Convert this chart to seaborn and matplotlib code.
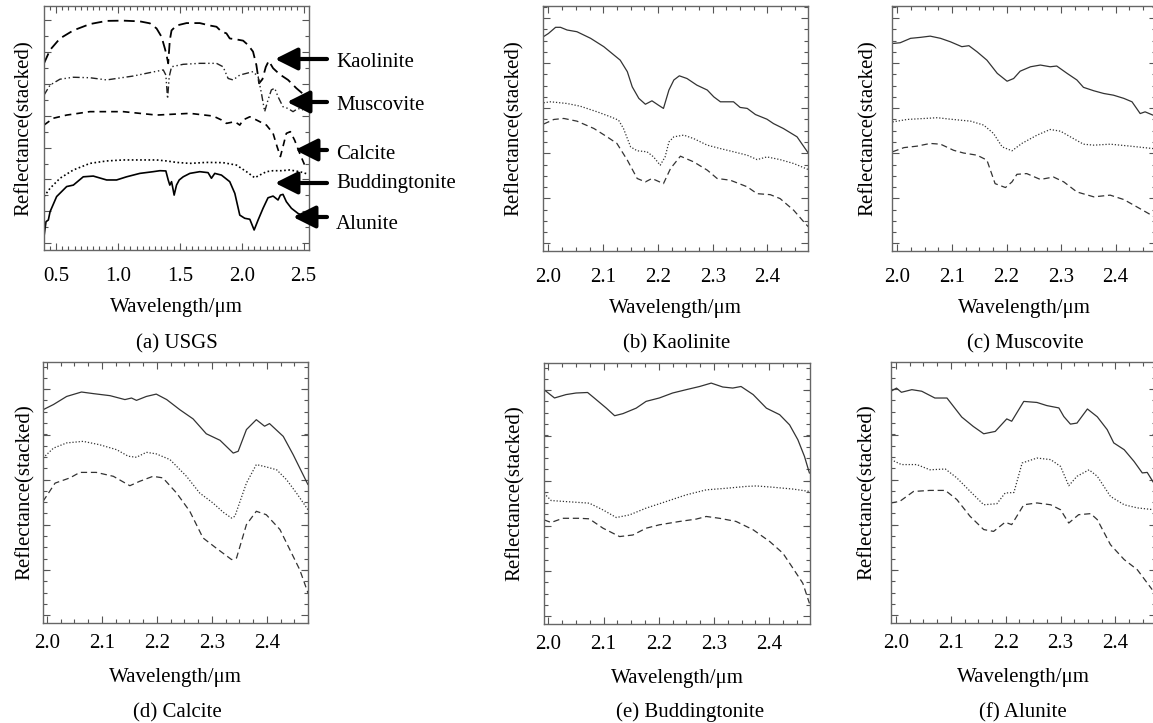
"""
Six-panel mineral spectra figure (USGS library + extracted spectra).
Output: out.png
"""
import pandas as pd
import matplotlib
matplotlib.use("Agg")
import matplotlib.pyplot as plt
from matplotlib.ticker import MultipleLocator
import seaborn as sns

W, H = 1153, 723

# --- (a) USGS library spectra (reflectance, stacked, axis fraction) ---
kao_x = [.403, .452, .532, .640, .774, .909, 1.043, 1.177, 1.258, 1.312, 1.352, 1.379, 1.392, 1.406, 1.419,
         1.433, 1.473, 1.554, 1.661, 1.742, 1.796, 1.836, 1.876, 1.903, 1.957, 2.011, 2.051, 2.091, 2.118,
         2.140, 2.167, 2.194, 2.218, 2.253, 2.306, 2.374, 2.441, 2.522]
kao_y = [.765, .82, .867, .90, .926, .939, .94, .937, .929, .908, .874, .826, .80, .765, .86,
         .90, .92, .93, .93, .92, .915, .895, .888, .867, .863, .858, .84, .813, .758,
         .683, .70, .75, .775, .745, .72, .697, .663, .628]
mus_x = [.403, .452, .532, .640, .774, .909, .989, 1.124, 1.258, 1.366, 1.387, 1.401, 1.414, 1.433, 1.527,
         1.661, 1.796, 1.849, 1.890, 1.930, 1.984, 2.038, 2.091, 2.132, 2.159, 2.185, 2.212, 2.239, 2.266,
         2.293, 2.333, 2.374, 2.414, 2.454, 2.495]
mus_y = [.635, .676, .70, .708, .706, .697, .703, .713, .727, .738, .717, .62, .71, .751, .761,
         .765, .765, .751, .703, .697, .717, .724, .731, .71, .642, .567, .615, .656, .663,
         .628, .587, .58, .567, .58, .574]
cal_x = [.403, .478, .586, .774, 1.043, 1.312, 1.581, 1.769, 1.836, 1.876, 1.944, 1.984, 2.011, 2.065,
         2.118, 2.199, 2.253, 2.285, 2.312, 2.333, 2.360, 2.392, 2.427, 2.468, 2.508]
cal_y = [.512, .54, .553, .567, .567, .553, .56, .549, .533, .519, .526, .512, .533, .546,
         .533, .512, .478, .424, .383, .424, .478, .485, .45, .396, .348]
bud_x = [.403, .452, .532, .640, .774, .909, 1.043, 1.177, 1.312, 1.392, 1.473, 1.581, 1.715, 1.849,
         1.957, 2.038, 2.105, 2.145, 2.199, 2.253, 2.32, 2.387, 2.468, 2.535]
bud_y = [.219, .253, .294, .328, .355, .365, .369, .369, .369, .365, .359, .355, .359, .358,
         .348, .321, .296, .307, .321, .325, .325, .328, .321, .311]
alu_x = [.403, .419, .438, .452, .505, .586, .640, .72, .801, .909, .989, 1.07, 1.177, 1.285, 1.339,
         1.387, 1.406, 1.419, 1.433, 1.441, 1.454, 1.473, 1.495, 1.527, 1.581, 1.661, 1.728, 1.755,
         1.782, 1.836, 1.903, 1.944, 1.984, 2.024, 2.065, 2.10, 2.132, 2.172, 2.212, 2.253, 2.293,
         2.312, 2.333, 2.36, 2.401, 2.454, 2.508, 2.535]
alu_y = [.055, .116, .123, .157, .219, .26, .266, .30, .303, .287, .287, .30, .314, .321, .325,
         .324, .287, .266, .28, .26, .225, .266, .287, .30, .314, .321, .317, .294,
         .314, .307, .28, .232, .143, .13, .126, .082, .123, .171, .214, .221, .205,
         .225, .228, .198, .171, .15, .137, .13]

# --- (b) Kaolinite ---
b_sol_x = [1.991, 2.0, 2.013, 2.022, 2.034, 2.052, 2.077, 2.101, 2.131, 2.144, 2.153, 2.165, 2.177, 2.189,
           2.201, 2.21, 2.22, 2.229, 2.239, 2.253, 2.271, 2.29, 2.302, 2.314, 2.338, 2.35, 2.363, 2.378,
           2.399, 2.411, 2.429, 2.454, 2.475]
b_sol_y = [.875, .888, .913, .913, .902, .895, .868, .834, .779, .732, .67, .623, .599, .613,
           .595, .582, .657, .698, .715, .704, .677, .657, .629, .609, .609, .586, .582, .557,
           .538, .52, .50, .466, .398]
b_dot_x = [1.991, 2.004, 2.034, 2.058, 2.089, 2.113, 2.128, 2.137, 2.15, 2.162, 2.18, 2.192, 2.204, 2.213,
           2.22, 2.229, 2.247, 2.265, 2.29, 2.314, 2.338, 2.363, 2.381, 2.399, 2.423, 2.448, 2.475]
b_dot_y = [.605, .609, .602, .591, .568, .548, .534, .50, .425, .409, .405, .384, .35, .384,
           .445, .466, .473, .459, .432, .418, .405, .391, .373, .384, .373, .357, .332]
b_dash_x = [1.991, 2.01, 2.028, 2.052, 2.083, 2.107, 2.125, 2.144, 2.162, 2.177, 2.189, 2.21, 2.223,
            2.241, 2.265, 2.29, 2.308, 2.332, 2.363, 2.381, 2.405, 2.423, 2.448, 2.469, 2.475]
b_dash_y = [.518, .537, .541, .53, .50, .466, .439, .371, .296, .282, .296, .275, .337,
            .387, .364, .33, .296, .289, .262, .234, .23, .214, .166, .112, .098]

# --- (c) Muscovite ---
c_sol_x = [1.991, 2.005, 2.024, 2.042, 2.06, 2.079, 2.097, 2.118, 2.131, 2.146, 2.164, 2.183, 2.201, 2.213,
           2.225, 2.244, 2.262, 2.28, 2.292, 2.311, 2.329, 2.341, 2.36, 2.378, 2.396, 2.415, 2.43, 2.445,
           2.454, 2.469]
c_sol_y = [.847, .85, .868, .872, .877, .868, .854, .834, .838, .813, .779, .725, .693, .704,
           .734, .752, .759, .752, .755, .725, .698, .668, .654, .643, .636, .623, .609, .561,
           .568, .554]
c_dot_x = [1.991, 2.018, 2.042, 2.073, 2.097, 2.134, 2.158, 2.176, 2.192, 2.21, 2.228, 2.256, 2.28, 2.299,
           2.317, 2.341, 2.36, 2.39, 2.427, 2.469]
c_dot_y = [.527, .537, .54, .544, .538, .53, .514, .48, .425, .409, .439, .473, .496, .489,
           .466, .436, .432, .436, .428, .418]
c_dash_x = [1.991, 2.012, 2.036, 2.06, 2.079, 2.103, 2.121, 2.146, 2.164, 2.179, 2.198, 2.21, 2.219,
            2.237, 2.262, 2.286, 2.305, 2.329, 2.36, 2.39, 2.415, 2.439, 2.469]
c_dash_y = [.405, .422, .428, .439, .436, .411, .40, .391, .371, .275, .259, .282, .313,
            .316, .292, .302, .282, .241, .221, .228, .21, .18, .142]

# --- (d) Calcite ---
d_sol_x = [1.993, 2.012, 2.036, 2.063, 2.084, 2.115, 2.142, 2.154, 2.163, 2.181, 2.199, 2.218, 2.242,
           2.266, 2.29, 2.315, 2.339, 2.348, 2.363, 2.381, 2.396, 2.405, 2.43, 2.448, 2.475]
d_sol_y = [.817, .837, .868, .885, .879, .871, .856, .862, .853, .868, .877, .856, .817,
           .782, .725, .70, .651, .658, .741, .779, .754, .764, .715, .645, .53]
d_dot_x = [1.993, 2.012, 2.036, 2.066, 2.096, 2.127, 2.148, 2.163, 2.181, 2.199, 2.224, 2.254, 2.278,
           2.302, 2.321, 2.336, 2.342, 2.363, 2.381, 2.399, 2.418, 2.436, 2.454, 2.475]
d_dot_y = [.632, .67, .69, .696, .683, .664, .639, .635, .654, .648, .626, .562, .498,
           .46, .424, .402, .409, .536, .607, .598, .587, .549, .498, .434]
d_dash_x = [1.993, 2.015, 2.042, 2.06, 2.09, 2.121, 2.151, 2.169, 2.193, 2.211, 2.236, 2.26, 2.284,
            2.308, 2.336, 2.345, 2.363, 2.381, 2.399, 2.424, 2.442, 2.46, 2.475]
d_dash_y = [.466, .536, .556, .577, .577, .562, .526, .543, .562, .556, .498, .428, .326,
            .287, .243, .249, .377, .428, .415, .358, .281, .204, .115]

# --- (e) Buddingtonite ---
e_sol_x = [1.992, 2.011, 2.032, 2.05, 2.071, 2.083, 2.105, 2.12, 2.135, 2.159, 2.177, 2.201, 2.225,
           2.25, 2.274, 2.295, 2.316, 2.334, 2.349, 2.371, 2.395, 2.419, 2.437, 2.452, 2.464, 2.473]
e_sol_y = [.898, .866, .879, .885, .887, .866, .827, .798, .806, .827, .853, .866, .885,
           .898, .91, .923, .908, .904, .91, .879, .827, .802, .763, .706, .642, .578]
e_dot_x = [1.992, 2.005, 2.032, 2.074, 2.099, 2.123, 2.147, 2.177, 2.213, 2.25, 2.286, 2.322, 2.358,
           2.377, 2.407, 2.443, 2.473]
e_dot_y = [.501, .473, .469, .463, .437, .408, .418, .444, .469, .495, .514, .52, .527,
           .529, .524, .517, .508]
e_dash_x = [1.992, 2.005, 2.026, 2.056, 2.074, 2.099, 2.129, 2.153, 2.177, 2.201, 2.238, 2.268, 2.286,
            2.31, 2.34, 2.371, 2.401, 2.425, 2.443, 2.461, 2.473]
e_dash_y = [.399, .389, .405, .405, .403, .367, .335, .341, .367, .38, .393, .402, .412,
            .405, .393, .361, .316, .271, .214, .156, .079]

# --- (f) Alunite ---
f_sol_x = [1.991, 2.001, 2.01, 2.029, 2.047, 2.071, 2.093, 2.12, 2.141, 2.16, 2.181, 2.202, 2.211, 2.233,
           2.257, 2.275, 2.297, 2.306, 2.318, 2.33, 2.349, 2.367, 2.385, 2.397, 2.416, 2.434, 2.449,
           2.458, 2.47]
f_sol_y = [.888, .90, .884, .894, .888, .862, .862, .789, .753, .725, .734, .782, .773, .849,
           .845, .833, .824, .791, .762, .766, .82, .79, .741, .69, .664, .619, .575,
           .577, .536]
f_dot_x = [1.991, 2.01, 2.038, 2.062, 2.09, 2.111, 2.135, 2.16, 2.184, 2.199, 2.215, 2.23, 2.257, 2.282,
           2.3, 2.315, 2.33, 2.352, 2.367, 2.391, 2.416, 2.44, 2.47]
f_dot_y = [.626, .607, .607, .587, .59, .556, .505, .453, .457, .498, .50, .613, .632, .626,
           .60, .526, .562, .587, .562, .485, .453, .441, .434]
f_dash_x = [1.991, 2.007, 2.032, 2.062, 2.09, 2.111, 2.135, 2.16, 2.178, 2.199, 2.211, 2.233, 2.257,
            2.282, 2.3, 2.315, 2.333, 2.355, 2.367, 2.391, 2.416, 2.44, 2.467]
f_dash_y = [.46, .466, .504, .508, .508, .473, .409, .358, .351, .386, .377, .453, .46,
            .453, .434, .383, .415, .419, .396, .30, .243, .204, .128]

usgs_names = ["Kaolinite", "Muscovite", "Calcite", "Buddingtonite", "Alunite"]
captions = ["(a) USGS", "(b) Kaolinite", "(c) Muscovite", "(d) Calcite", "(e) Buddingtonite", "(f) Alunite"]

# --- style ---
sns.set_theme(style="ticks")
plt.rcParams["font.family"] = ["Liberation Serif", "DejaVu Serif"]
plt.rcParams["axes.unicode_minus"] = False

fig = plt.figure(figsize=(W / 100, H / 100), dpi=100)
fig.patch.set_facecolor("white")


def px_axes(l, t, r, b):
    return fig.add_axes([l / W, 1 - b / H, (r - l) / W, (b - t) / H])


def style(ax, xlim, xmaj, xmin, ymaj, ymin, yoff, tpad, lpad, ylpad):
    ax.set_xlim(*xlim)
    ax.set_ylim(0, 1)
    ax.xaxis.set_major_locator(MultipleLocator(xmaj))
    ax.xaxis.set_minor_locator(MultipleLocator(xmin))
    ax.yaxis.set_major_locator(MultipleLocator(ymaj, offset=yoff))
    ax.yaxis.set_minor_locator(MultipleLocator(ymin, offset=yoff))
    ax.tick_params(which="both", direction="in", top=True, right=True, labelleft=False,
                   color="#555555", width=0.8)
    ax.tick_params(which="major", length=5)
    ax.tick_params(which="minor", length=3)
    ax.tick_params(axis="x", labelsize=15, pad=tpad, labelcolor="black")
    for s in ax.spines.values():
        s.set_color("#666666")
        s.set_linewidth(1.0)
    ax.set_xlabel("Wavelength/μm", fontsize=15, labelpad=lpad, color="black")
    ax.set_ylabel("Reflectance(stacked)", fontsize=15, labelpad=ylpad, color="black")
    ax.grid(False)


def curve(ax, x, y, ls, lw=0.9, color="#333333"):
    df = pd.DataFrame({"Wavelength": x, "Reflectance": y})
    sns.lineplot(data=df, x="Wavelength", y="Reflectance", ax=ax, color=color,
                 linestyle=ls, linewidth=lw, errorbar=None)


SOLID, DOT, DASH = "-", (0, (1, 1.5)), (0, (5, 3))

# --- (a) USGS ---
ax = px_axes(44, 6, 309, 250)
curve(ax, kao_x, kao_y, (0, (6, 3)), lw=1.3, color="black")
curve(ax, mus_x, mus_y, (0, (5, 2, 1, 2, 1, 2)), lw=1.0, color="#222222")
curve(ax, cal_x, cal_y, (0, (4, 3)), lw=1.2, color="black")
curve(ax, bud_x, bud_y, (0, (1, 1.5)), lw=1.2, color="black")
curve(ax, alu_x, alu_y, "-", lw=1.2, color="black")
style(ax, (0.403, 2.543), 0.5, 0.05, 0.131, 0.0655, 0.027, 12, 9, 7)

# arrows + labels: (tip x, arrow y, label baseline) in figure pixels
tips = [275, 287, 295, 275, 293]
arrow_y = [59, 102, 150, 183, 217]
label_base = [67, 110, 159, 188, 229]
for name, tx, ay, lb in zip(usgs_names, tips, arrow_y, label_base):
    ax.annotate("", xy=(tx / W, 1 - ay / H), xytext=(327 / W, 1 - ay / H),
                xycoords="figure fraction", textcoords="figure fraction",
                arrowprops=dict(arrowstyle="-|>,head_length=0.9,head_width=0.45",
                                mutation_scale=15, lw=3, color="black",
                                shrinkA=0, shrinkB=0))
    fig.text(336 / W, 1 - lb / H, name, fontsize=15, ha="left", va="baseline", color="black")

# --- (b)-(f) extracted spectra ---
panels = [
    ((543, 6, 808, 251), (1.99, 2.474), (b_sol_x, b_sol_y), (b_dot_x, b_dot_y), (b_dash_x, b_dash_y), 1),
    ((892, 6, 1156, 251), (1.99, 2.474), (c_sol_x, c_sol_y), (c_dot_x, c_dot_y), (c_dash_x, c_dash_y), 1),
    ((43, 362, 308, 623), (1.993, 2.475), (d_sol_x, d_sol_y), (d_dot_x, d_dot_y), (d_dash_x, d_dash_y), 2),
    ((544, 363, 810, 624), (1.992, 2.474), (e_sol_x, e_sol_y), (e_dot_x, e_dot_y), (e_dash_x, e_dash_y), 2),
    ((891, 362, 1156, 623), (1.991, 2.474), (f_sol_x, f_sol_y), (f_dot_x, f_dot_y), (f_dash_x, f_dash_y), 2),
]
ylabel_pads = [14, 10, 6, 14, 10]
for (box, xl, sol, dot, dash, row), ylp in zip(panels, ylabel_pads):
    ax = px_axes(*box)
    curve(ax, *sol, SOLID)
    curve(ax, *dot, DOT)
    curve(ax, *dash, DASH)
    if row == 1:
        style(ax, xl, 0.1, 0.025, 0.184, 0.046, 0.031, 12, 9, ylp)
    else:
        style(ax, xl, 0.1, 0.025, 0.173, 0.0433, 0.03, 8, 11, ylp)

# --- captions ---
cap_x = [177, 677, 1025, 177, 690, 1023]
cap_base = [348, 348, 348, 717, 717, 717]
for txt, cx, cb in zip(captions, cap_x, cap_base):
    fig.text(cx / W, 1 - cb / H, txt, fontsize=15, ha="center", va="baseline", color="black")

fig.savefig("out.png", dpi=100, facecolor="white")
plt.close(fig)
